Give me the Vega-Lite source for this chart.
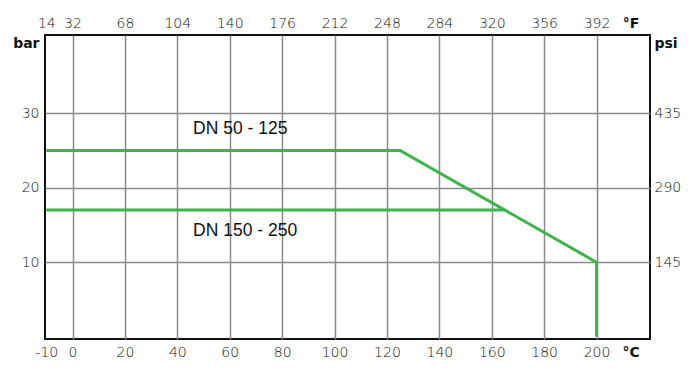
{
  "$schema": "https://vega.github.io/schema/vega-lite/v6.json",
  "autosize": {"type": "none"},
  "padding": {"left": 45, "top": 35, "right": 50, "bottom": 48},
  "width": 605,
  "height": 304,
  "background": "white",
  "config": {
    "view": {"stroke": "#111111", "strokeWidth": 2},
    "axis": {
      "labelFont": "DejaVu Sans",
      "labelFontSize": 14,
      "labelColor": "#111111",
      "ticks": false,
      "domain": false,
      "gridColor": "#8a8a8a",
      "gridWidth": 1.5,
      "title": null
    }
  },
  "resolve": {"axis": {"x": "independent", "y": "independent"}},
  "layer": [
    {
      "data": {
        "values": [
          {"series": "DN 50 - 125", "i": 1, "temp_c": -10, "bar": 25},
          {"series": "DN 50 - 125", "i": 2, "temp_c": 125, "bar": 25},
          {"series": "DN 50 - 125", "i": 3, "temp_c": 200, "bar": 10},
          {"series": "DN 50 - 125", "i": 4, "temp_c": 200, "bar": 0},
          {"series": "DN 150 - 250", "i": 1, "temp_c": -10, "bar": 17},
          {"series": "DN 150 - 250", "i": 2, "temp_c": 165, "bar": 17}
        ]
      },
      "mark": {"type": "line", "color": "#3cb44a", "strokeWidth": 3, "clip": true},
      "encoding": {
        "x": {
          "field": "temp_c", "type": "quantitative",
          "scale": {"domain": [-10.5, 220.4], "nice": false, "zero": false},
          "axis": {
            "orient": "bottom",
            "values": [-10, 0, 20, 40, 60, 80, 100, 120, 140, 160, 180, 200, 213],
            "labelExpr": "datum.value == 213 ? '°C' : (datum.value < 0 ? '-' + format(-datum.value, 'd') : format(datum.value, 'd'))",
            "labelFontWeight": {"condition": {"test": "datum.value == 213", "value": "bold"}, "value": 200},
            "gridOpacity": {"condition": {"test": "datum.value == 213 || datum.value == -10", "value": 0}, "value": 1},
            "labelPadding": 6,
            "labelFlush": false,
            "labelOverlap": false
          }
        },
        "y": {
          "field": "bar", "type": "quantitative",
          "scale": {"domain": [-0.3, 40.5], "nice": false, "zero": false},
          "axis": {
            "orient": "left",
            "values": [10, 20, 30, 39.3],
            "labelExpr": "datum.value > 35 ? 'bar' : datum.label",
            "labelFontWeight": {"condition": {"test": "datum.value > 35", "value": "bold"}, "value": 200},
            "gridOpacity": {"condition": {"test": "datum.value > 35", "value": 0}, "value": 1},
            "labelPadding": 6,
            "labelFlush": false,
            "labelOverlap": false
          }
        },
        "detail": {"field": "series"},
        "order": {"field": "i"}
      }
    },
    {
      "data": {
        "values": [
          {"label": "DN 50 - 125", "temp_c": 46, "bar": 27.9},
          {"label": "DN 150 - 250", "temp_c": 46, "bar": 14.2}
        ]
      },
      "mark": {"type": "text", "font": "Liberation Sans", "fontSize": 17.5, "align": "left", "baseline": "middle", "color": "#111111"},
      "encoding": {
        "x": {
          "field": "temp_c", "type": "quantitative",
          "scale": {"domain": [-10.5, 220.4], "nice": false, "zero": false},
          "axis": {
            "orient": "top",
            "grid": false,
            "values": [-10, 0, 20, 40, 60, 80, 100, 120, 140, 160, 180, 200, 213],
            "labelExpr": "datum.value == 213 ? '°F' : format(datum.value * 1.8 + 32, 'd')",
            "labelFontWeight": {"condition": {"test": "datum.value == 213", "value": "bold"}, "value": 200},
            "labelPadding": 5,
            "labelFlush": false,
            "labelOverlap": false
          }
        },
        "y": {
          "field": "bar", "type": "quantitative",
          "scale": {"domain": [-0.3, 40.5], "nice": false, "zero": false},
          "axis": {
            "orient": "right",
            "grid": false,
            "values": [10, 20, 30, 39.3],
            "labelExpr": "datum.value > 35 ? 'psi' : format(datum.value * 14.5, 'd')",
            "labelFontWeight": {"condition": {"test": "datum.value > 35", "value": "bold"}, "value": 200},
            "labelPadding": 4,
            "labelFlush": false,
            "labelOverlap": false
          }
        },
        "text": {"field": "label"}
      }
    }
  ]
}
